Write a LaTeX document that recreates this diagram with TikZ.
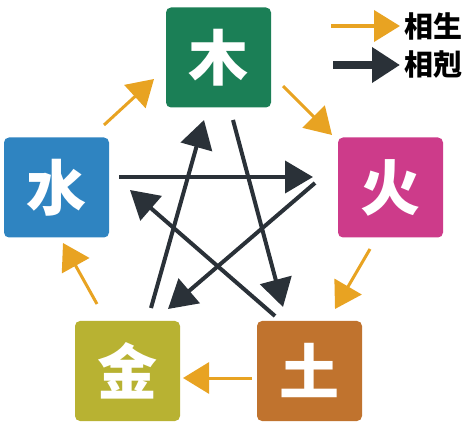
\documentclass[tikz,border=0pt]{standalone}
\usepackage{fontspec}
\newfontfamily\cjk{Noto Sans CJK SC}
\usetikzlibrary{arrows.meta,calc}
\definecolor{cwood}{HTML}{1B7F56}
\definecolor{cfire}{HTML}{CD3B8A}
\definecolor{cwater}{HTML}{2F84C1}
\definecolor{cmetal}{HTML}{B8B232}
\definecolor{cearth}{HTML}{C0732E}
\definecolor{cgen}{HTML}{E8A322}
\definecolor{cctrl}{HTML}{2A3138}
\tikzset{
  elem/.style={rounded corners=5pt, minimum width=105pt, minimum height=100pt, inner sep=0pt, text=white, font=\cjk\bfseries\fontsize{60}{60}\selectfont},
  gen/.style={draw=cgen, line width=3pt, -{Triangle[length=26pt,width=31pt]}, cgen},
  ctrl/.style={draw=cctrl, line width=4pt, -{Triangle[length=28pt,width=32pt]}, cctrl},
  legtext/.style={anchor=west, inner sep=0pt, font=\cjk\bfseries\fontsize{29}{29}\selectfont, text=black}
}
\begin{document}
\begin{tikzpicture}[x=1pt,y=-1pt]
\useasboundingbox (0,0) rectangle (467,428);
\node[elem, fill=cwood]  (wood)  at (218.5,57.5) {木};
\node[elem, fill=cfire]  (fire)  at (390.5,187.5) {火};
\node[elem, fill=cwater] (water) at (56.5,187.5) {水};
\node[elem, fill=cmetal] (metal) at (127.5,371) {金};
\node[elem, fill=cearth] (earth) at (309.5,371) {土};
% generating cycle
\draw[gen] ($(water.center)+(47.5,-62.5)$) -- ($(wood.center)+(-64.5,21.5)$);
\draw[gen] ($(wood.center)+(64.5,28.5)$) -- ($(fire.center)+(-58.5,-52.5)$);
\draw[gen] ($(fire.center)+(-20.5,61.5)$) -- ($(earth.center)+(25.5,-62)$);
\draw[gen] ($(earth.center)+(-57.5,7)$) -- ($(metal.center)+(55.5,7)$);
\draw[gen] ($(metal.center)+(-30.5,-67)$) -- ($(water.center)+(6.5,55.5)$);
% controlling cycle
\draw[ctrl] ($(wood.center)+(14.5,62.5)$) -- ($(earth.center)+(-26.5,-64)$);
\draw[ctrl] ($(water.center)+(62.5,-10.5)$) -- ($(fire.center)+(-77.5,-10.5)$);
\draw[ctrl] ($(fire.center)+(-75.5,-4.5)$) -- ($(metal.center)+(40.5,-62)$);
\draw[ctrl] ($(metal.center)+(23.5,-63)$) -- ($(wood.center)+(-14.5,62.5)$);
\draw[ctrl] ($(earth.center)+(-34.5,-55)$) -- ($(water.center)+(73.5,2.5)$);
% legend
\node[legtext] (lgen) at (404,26) {相生};
\node[legtext] (lctrl) at (404,65) {相剋};
\coordinate (lgs) at (331,26);
\coordinate (lcs) at (333,65);
\draw[gen, line width=4pt, shorten >=4pt] (lgs) -- (lgen.west);
\draw[ctrl, line width=8pt, -{Triangle[length=28pt,width=34pt]}, shorten >=4pt] (lcs) -- (lctrl.west);
\end{tikzpicture}
\end{document}
